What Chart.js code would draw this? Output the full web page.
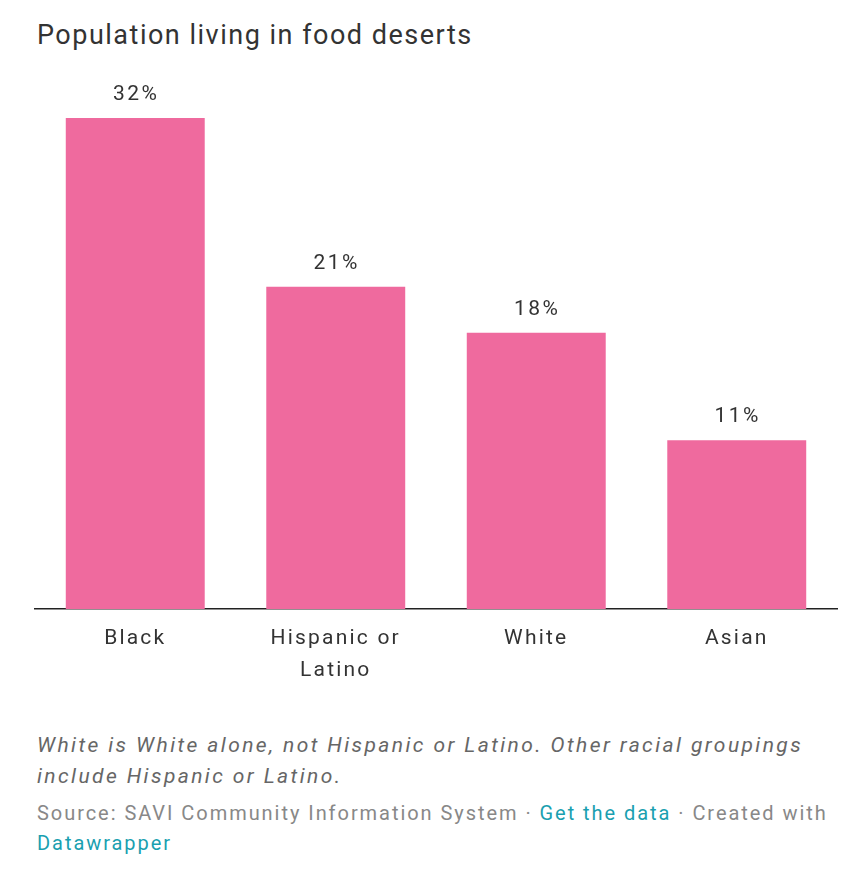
<!DOCTYPE html>
<html>
<head>
<meta charset="utf-8">
<script src="https://cdn.jsdelivr.net/npm/chart.js@4/dist/chart.umd.min.js"></script>
<style>
    body {
        margin: 0;
        background: #ffffff;
        font-family: Roboto, "Noto Sans", sans-serif;
        width: 844px;
        height: 882px;
        position: relative;
        overflow: hidden;
    }
    #titulo {
        position: absolute;
        left: 37px;
        top: 19px;
        font-size: 27px;
        letter-spacing: 1.5px;
        color: #333333;
    }
    #grafico {
        position: absolute;
        left: 0;
        top: 0;
        width: 844px;
        height: 700px;
    }
    .nota {
        position: absolute;
        left: 37px;
        top: 730px;
        width: 800px;
        font-size: 21px;
        letter-spacing: 2.4px;
        line-height: 31px;
        font-style: italic;
        color: #666666;
    }
    .fonte {
        position: absolute;
        left: 37px;
        top: 798px;
        width: 805px;
        font-size: 20px;
        letter-spacing: 1.95px;
        line-height: 30px;
        color: #888888;
    }
    .fonte a {
        color: #1a9fb0;
        text-decoration: none;
    }
</style>
</head>
<body>
<div id="titulo">Population living in food deserts</div>
<div id="grafico"><canvas id="barras"></canvas></div>
<div class="nota">White is White alone, not Hispanic or Latino. Other racial groupings include Hispanic or Latino.</div>
<div class="fonte">Source: SAVI Community Information System · <a href="#">Get the data</a> · Created with <a href="#">Datawrapper</a></div>

<script>
const grupos = ["Black", ["Hispanic or", "Latino"], "White", "Asian"];
const percentuais = [32, 21, 18, 11];

// letras mais espaçadas nos rótulos do eixo
const espacamento = {
    id: "espacamento",
    beforeDraw(chart) {
        chart.ctx.letterSpacing = "2.2px";
    }
};

// escreve o valor em cima de cada barra
const rotulosValor = {
    id: "rotulosValor",
    afterDatasetsDraw(chart) {
        const ctx = chart.ctx;
        const meta = chart.getDatasetMeta(0);
        ctx.save();
        ctx.font = "21px Roboto";
        ctx.letterSpacing = "2.5px";
        ctx.fillStyle = "#333333";
        ctx.textAlign = "center";
        ctx.textBaseline = "middle";
        meta.data.forEach((barra, i) => {
            ctx.fillText(percentuais[i] + "%", barra.x + 1, barra.y - 23);
        });
        ctx.restore();
    }
};

window.onload = () => {
    const barras = document.getElementById("barras");

    new Chart(barras, {
        type: "bar",
        data: {
            labels: grupos,
            datasets: [{
                data: percentuais,
                backgroundColor: "#ef6a9e",
                barPercentage: 0.693,
                categoryPercentage: 1
            }]
        },
        options: {
            responsive: true,
            maintainAspectRatio: false,
            animation: false,
            layout: {
                padding: { left: 35, right: 7, top: 118, bottom: 0 }
            },
            plugins: {
                legend: { display: false },
                tooltip: { enabled: false }
            },
            scales: {
                x: {
                    grid: { display: false, drawTicks: false },
                    border: { display: true, color: "#222222", width: 1.5 },
                    ticks: {
                        color: "#333333",
                        font: { size: 21, family: "Roboto", lineHeight: 1.5 },
                        padding: 14
                    },
                    afterFit(scale) {
                        scale.height = 91;
                    }
                },
                y: {
                    display: false,
                    min: 0,
                    max: 32
                }
            }
        },
        plugins: [espacamento, rotulosValor]
    });
};
</script>
</body>
</html>
